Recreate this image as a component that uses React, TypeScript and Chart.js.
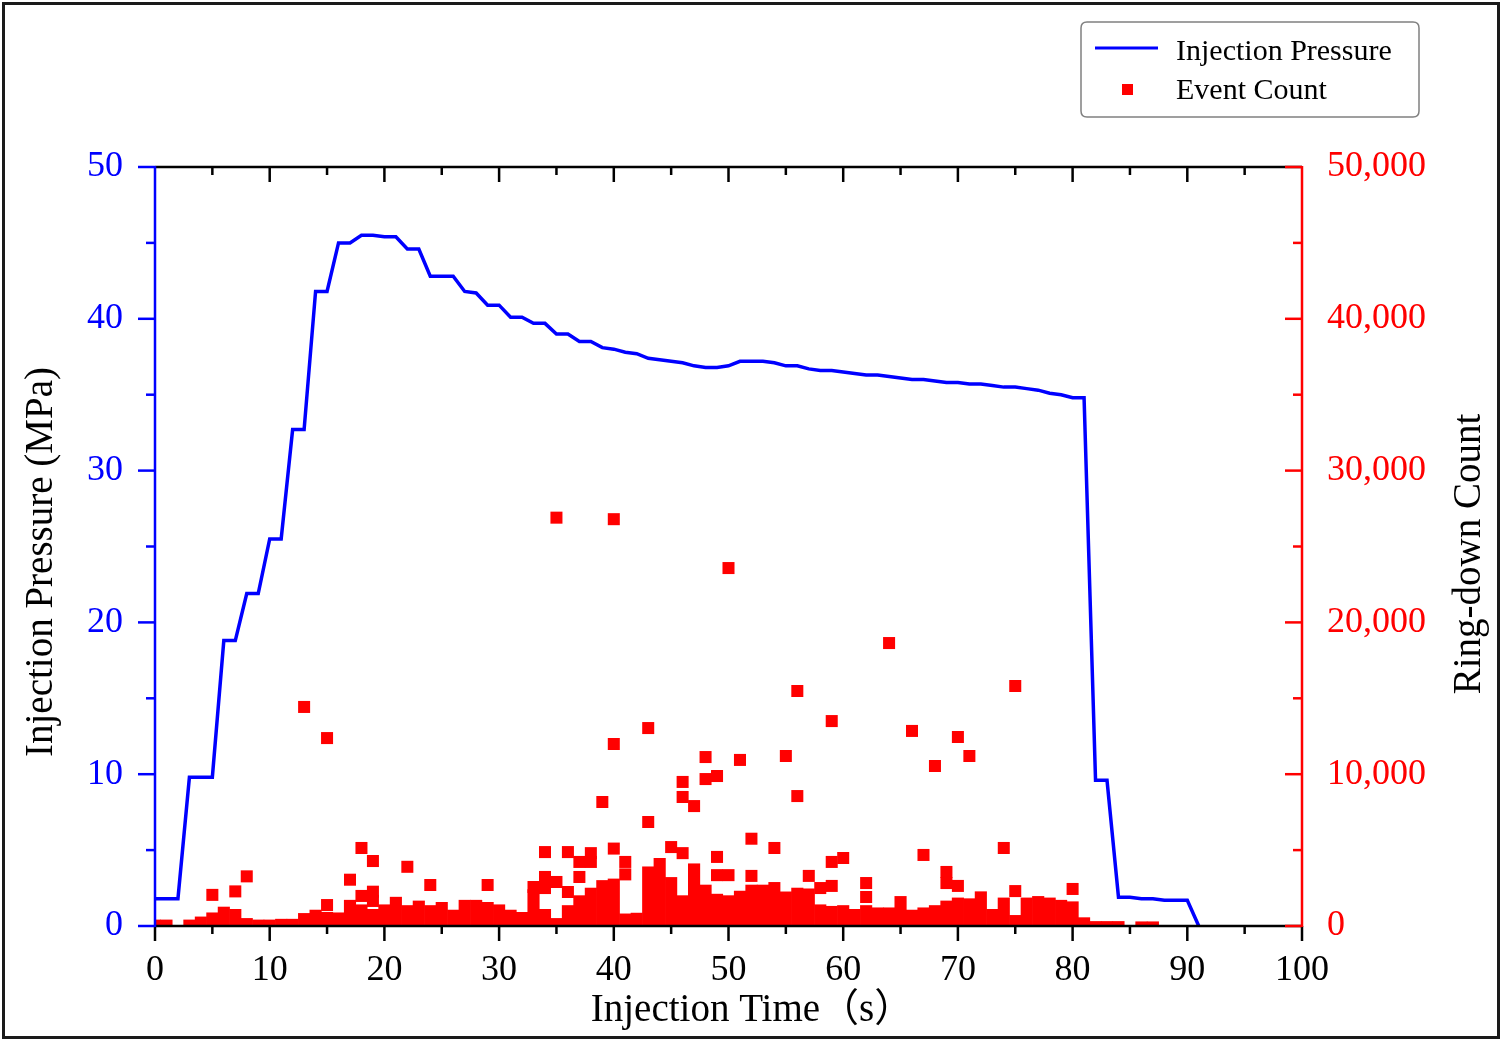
import { useEffect, useRef } from 'react';
import { Chart, registerables } from 'chart.js';

Chart.register(...registerables);

const FONT = "'Liberation Serif', 'Times New Roman', 'Noto Sans CJK SC', serif";
const BLUE = '#0000ff';
const RED = '#ff0000';

// Injection pressure (MPa) vs injection time (s)
const pressureTime = [
  0, 1, 2, 3, 4, 5, 6, 7, 8, 9, 10, 11, 12, 13, 14, 15, 16, 17, 18, 19, 20,
  21, 22, 23, 24, 25, 26, 27, 28, 29, 30, 31, 32, 33, 34, 35, 36, 37, 38, 39, 40,
  41, 42, 43, 44, 45, 46, 47, 48, 49, 50, 51, 52, 53, 54, 55, 56, 57, 58, 59, 60,
  61, 62, 63, 64, 65, 66, 67, 68, 69, 70, 71, 72, 73, 74, 75, 76, 77, 78, 79, 80,
  81, 82, 83, 84, 85, 86, 87, 88, 89, 90, 91,
];
const pressureValue = [
  1.8, 1.8, 1.8, 9.8, 9.8, 9.8, 18.8, 18.8, 21.9, 21.9, 25.5, 25.5, 32.7, 32.7, 41.8, 41.8, 45.0, 45.0, 45.5, 45.5, 45.4,
  45.4, 44.6, 44.6, 42.8, 42.8, 42.8, 41.8, 41.7, 40.9, 40.9, 40.1, 40.1, 39.7, 39.7, 39.0, 39.0, 38.5, 38.5, 38.1, 38.0,
  37.8, 37.7, 37.4, 37.3, 37.2, 37.1, 36.9, 36.8, 36.8, 36.9, 37.2, 37.2, 37.2, 37.1, 36.9, 36.9, 36.7, 36.6, 36.6, 36.5,
  36.4, 36.3, 36.3, 36.2, 36.1, 36.0, 36.0, 35.9, 35.8, 35.8, 35.7, 35.7, 35.6, 35.5, 35.5, 35.4, 35.3, 35.1, 35.0, 34.8,
  34.8, 9.6, 9.6, 1.9, 1.9, 1.8, 1.8, 1.7, 1.7, 1.7, 0,
];

// Dense low-level ring-down counts per second (overlapping squares near the base)
const baseTime = [
  0, 1, 2, 3, 4, 5, 6, 7, 8, 9, 10, 11, 12, 13, 14, 15, 16, 17, 18, 19, 20,
  21, 22, 23, 24, 25, 26, 27, 28, 29, 30, 31, 32, 33, 34, 35, 36, 37, 38, 39, 40,
  41, 42, 43, 44, 45, 46, 47, 48, 49, 50, 51, 52, 53, 54, 55, 56, 57, 58, 59, 60,
  61, 62, 63, 64, 65, 66, 67, 68, 69, 70, 71, 72, 73, 74, 75, 76, 77, 78, 79, 80,
  81, 82, 83, 84, 85, 86, 87,
];
const baseCount = [
  400, 400, 0, 400, 600, 870, 1250, 1100, 500, 400, 400, 450, 450, 830, 1050, 900, 870, 1700, 1400, 1100, 1400,
  1900, 1350, 1650, 1350, 1560, 1050, 1700, 1700, 1560, 1400, 1050, 900, 2400, 1100, 500, 1350, 2000, 2500, 3000, 3100,
  800, 850, 3900, 4450, 3200, 2000, 4100, 2700, 2100, 2000, 2300, 2700, 2700, 2200, 2250, 2500, 2450, 1400, 1300, 1350,
  1100, 1350, 1200, 1200, 1950, 1050, 1200, 1350, 1650, 1850, 1800, 2260, 1100, 1850, 700, 1850, 1950, 1850, 1700, 1600,
  550, 300, 300, 300, 0, 280, 280,
];

// Individual event ring-down counts
const eventTime = [
  5, 7, 8, 13, 15, 15, 17, 18, 18, 19, 19, 19, 22, 24, 29, 33, 34, 34, 34, 35,
  35, 36, 36, 37, 37, 38, 38, 39, 40, 40, 40, 41, 41, 43, 43, 45, 46, 46, 46, 47,
  48, 48, 49, 49, 49, 50, 50, 51, 52, 52, 54, 54, 55, 56, 56, 57, 58, 59, 59, 59,
  60, 62, 62, 64, 66, 67, 68, 69, 69, 70, 70, 71, 74, 75, 75, 80,
];
const eventCount = [
  2050, 2280, 3270, 14430, 12380, 1380, 3050, 5140, 1980, 4280, 2260, 1650, 3900, 2700, 2700, 2570, 4870, 3230, 2500, 26900,
  2900, 4870, 2240, 4220, 3230, 4800, 4220, 8170, 26800, 11990, 5100, 4220, 3400, 13040, 6850, 5200, 9490, 8500, 4800, 7900,
  11130, 9680, 9880, 4550, 3350, 23580, 3350, 10940, 5750, 3300, 5140, 2500, 11200, 15480, 8560, 3300, 2500, 13500, 4220, 2640,
  4480, 2830, 1910, 18640, 12850, 4680, 10540, 3560, 2830, 12450, 2640, 11200, 5140, 15810, 2300, 2440,
];

const xAxisTitle = 'Injection Time（s）';
const yAxisTitle = 'Injection Pressure (MPa)';
const y1AxisTitle = 'Ring-down Count';
const legendLabels = ['Injection Pressure', 'Event Count'];

const decorPlugin = {
  id: 'decor',
  beforeDraw(chart: any) {
    const { ctx, width, height } = chart;
    ctx.save();
    ctx.fillStyle = '#ffffff';
    ctx.fillRect(0, 0, width, height);
    ctx.restore();
  },
  afterDraw(chart: any) {
    const { ctx, chartArea: a, scales } = chart;
    const line = (x1: number, y1: number, x2: number, y2: number) => {
      ctx.beginPath();
      ctx.moveTo(x1, y1);
      ctx.lineTo(x2, y2);
      ctx.stroke();
    };
    ctx.save();
    ctx.lineCap = 'butt';

    // bottom and top axis lines (black)
    ctx.strokeStyle = '#000000';
    ctx.lineWidth = 2.5;
    line(a.left, a.bottom, a.right, a.bottom);
    line(a.left, a.top, a.right, a.top);

    // x ticks
    for (let v = 0; v <= 100; v += 5) {
      const px = scales.x.getPixelForValue(v);
      const len = v % 10 === 0 ? 15 : 8;
      line(px, a.bottom, px, a.bottom + len);
      if (v !== 0 && v !== 100) line(px, a.top, px, a.top + len);
    }

    // left axis (blue), ticks outward
    ctx.strokeStyle = BLUE;
    line(a.left, a.top - 1, a.left, a.bottom + 1);
    for (let v = 0; v <= 50; v += 5) {
      const py = scales.y.getPixelForValue(v);
      const len = v % 10 === 0 ? 17 : 9;
      line(a.left, py, a.left - len, py);
    }

    // right axis (red), ticks inward
    ctx.strokeStyle = RED;
    line(a.right, a.top - 1, a.right, a.bottom + 1);
    for (let v = 0; v <= 50000; v += 5000) {
      const py = scales.y1.getPixelForValue(v);
      const len = v % 10000 === 0 ? 17 : 9;
      line(a.right, py, a.right - len, py);
    }

    // outer frame
    ctx.strokeStyle = '#1a1a1a';
    ctx.lineWidth = 3;
    ctx.strokeRect(3.5, 3.5, 1495, 1034);

    // axis titles
    ctx.fillStyle = '#000000';
    ctx.font = `39px ${FONT}`;
    ctx.textAlign = 'center';
    ctx.textBaseline = 'alphabetic';
    ctx.fillText(xAxisTitle, 752, 1021);

    ctx.save();
    ctx.translate(52, 562);
    ctx.rotate(-Math.PI / 2);
    ctx.fillText(yAxisTitle, 0, 0);
    ctx.restore();

    ctx.save();
    ctx.translate(1480, 554);
    ctx.rotate(-Math.PI / 2);
    ctx.fillText(y1AxisTitle, 0, 0);
    ctx.restore();

    // legend box
    const bx = 1081, by = 22, bw = 338, bh = 95, r = 6;
    ctx.beginPath();
    ctx.moveTo(bx + r, by);
    ctx.lineTo(bx + bw - r, by);
    ctx.quadraticCurveTo(bx + bw, by, bx + bw, by + r);
    ctx.lineTo(bx + bw, by + bh - r);
    ctx.quadraticCurveTo(bx + bw, by + bh, bx + bw - r, by + bh);
    ctx.lineTo(bx + r, by + bh);
    ctx.quadraticCurveTo(bx, by + bh, bx, by + bh - r);
    ctx.lineTo(bx, by + r);
    ctx.quadraticCurveTo(bx, by, bx + r, by);
    ctx.closePath();
    ctx.fillStyle = '#ffffff';
    ctx.fill();
    ctx.strokeStyle = '#808080';
    ctx.lineWidth = 1.5;
    ctx.stroke();

    ctx.strokeStyle = BLUE;
    ctx.lineWidth = 3;
    line(1095, 48, 1158, 48);
    ctx.fillStyle = RED;
    ctx.fillRect(1122, 84, 11, 11);

    ctx.fillStyle = '#000000';
    ctx.font = `30px ${FONT}`;
    ctx.textAlign = 'left';
    ctx.fillText(legendLabels[0], 1176, 60);
    ctx.fillText(legendLabels[1], 1176, 99);

    ctx.restore();
  },
};

export default function App() {
  const ref = useRef<HTMLCanvasElement>(null);

  useEffect(() => {
    document.body.style.margin = '0';
    document.body.style.background = '#ffffff';
    const canvas = ref.current;
    if (!canvas) return;

    const tickFont = { family: FONT, size: 36 };

    const chart = new Chart(canvas, {
      type: 'scatter',
      data: {
        datasets: [
          {
            type: 'line',
            label: legendLabels[0],
            data: pressureTime.map((t, i) => ({ x: t, y: pressureValue[i] })),
            yAxisID: 'y',
            borderColor: BLUE,
            borderWidth: 3.5,
            pointRadius: 0,
            tension: 0,
            fill: false,
            order: 0,
          },
          {
            type: 'scatter',
            label: legendLabels[1],
            data: eventTime.map((t, i) => ({ x: t, y: eventCount[i] })),
            yAxisID: 'y1',
            pointStyle: 'rect',
            pointRadius: 8.5,
            pointHoverRadius: 8.5,
            backgroundColor: RED,
            borderWidth: 0,
            clip: 0,
            order: 1,
          },
          {
            type: 'bar',
            label: 'Event Count (dense)',
            data: baseTime.map((t, i) => ({ x: t, y: baseCount[i] })),
            yAxisID: 'y1',
            backgroundColor: RED,
            borderWidth: 0,
            barPercentage: 1,
            categoryPercentage: 1,
            clip: 0,
            order: 2,
          },
        ],
      } as any,
      options: {
        responsive: false,
        animation: false,
        layout: { padding: { top: 167, left: 0, right: 0, bottom: 0 } },
        plugins: {
          legend: { display: false },
          tooltip: { enabled: false },
          title: { display: false },
        },
        scales: {
          x: {
            type: 'linear',
            position: 'bottom',
            min: 0,
            max: 100,
            offset: false,
            grid: { display: false, drawTicks: false },
            border: { display: false },
            ticks: {
              stepSize: 10,
              color: '#000000',
              font: tickFont,
              padding: 23,
              maxRotation: 0,
              autoSkip: false,
            },
            afterFit: (s: any) => {
              s.height = 119;
            },
          },
          y: {
            type: 'linear',
            position: 'left',
            min: 0,
            max: 50,
            grid: { display: false, drawTicks: false },
            border: { display: false },
            ticks: {
              stepSize: 10,
              color: BLUE,
              font: tickFont,
              padding: 32,
              autoSkip: false,
            },
            afterFit: (s: any) => {
              s.width = 155;
            },
          },
          y1: {
            type: 'linear',
            position: 'right',
            min: 0,
            max: 50000,
            grid: { display: false, drawTicks: false },
            border: { display: false },
            ticks: {
              stepSize: 10000,
              color: RED,
              font: tickFont,
              padding: 25,
              autoSkip: false,
              callback: (v: any) => Number(v).toLocaleString('en-US'),
            },
            afterFit: (s: any) => {
              s.width = 203;
            },
          },
        },
      } as any,
      plugins: [decorPlugin],
    });

    return () => chart.destroy();
  }, []);

  return (
    <canvas
      ref={ref}
      width={1505}
      height={1045}
      style={{ display: 'block', width: '1505px', height: '1045px' }}
    />
  );
}
